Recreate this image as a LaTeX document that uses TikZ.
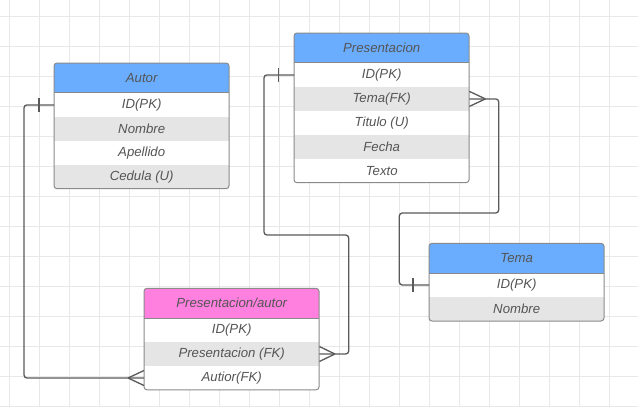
\documentclass[tikz,border=0pt]{standalone}
\usepackage{fontspec}
\setmainfont{Liberation Sans}
\definecolor{hblue}{HTML}{6AADFE}
\definecolor{hpink}{HTML}{FF80DF}
\definecolor{rowgray}{HTML}{E5E5E5}
\definecolor{gridc}{HTML}{E8E8E8}
\definecolor{txt}{HTML}{555555}
\definecolor{bordc}{HTML}{8A8A8A}
\definecolor{lineg}{HTML}{5A5A5A}
\tikzset{
  cell/.style={anchor=north west, minimum width=175pt, inner sep=0pt, text=txt,
    font=\fontsize{13.2}{15}\selectfont\itshape},
  hdr/.style={cell, minimum height=29.5pt, fill=hblue},
  hdrp/.style={cell, minimum height=29.5pt, fill=hpink},
  roww/.style={cell, minimum height=24pt, fill=white},
  rowg/.style={cell, minimum height=24pt, fill=rowgray},
  tborder/.style={draw=bordc, line width=1pt, rounded corners=3pt},
  conn/.style={draw=lineg, line width=1.3pt, rounded corners=3pt},
  crow/.style={draw=lineg, line width=1.3pt},
}
\begin{document}
\begin{tikzpicture}[x=1pt,y=-1pt]
\useasboundingbox (0,0) rectangle (638,407);
\fill[white] (0,0) rectangle (638,407);
% grid
\foreach \i in {0,...,20} \draw[gridc, line width=1pt] (9.5+30*\i,0) -- (9.5+30*\i,407);
\foreach \j in {0,...,13} \draw[gridc, line width=1pt] (0,16.8+30*\j) -- (638,16.8+30*\j);

% Autor
\begin{scope}
\clip[rounded corners=3pt] (54,63) rectangle (229,188.7);
\node[hdr] (ah) at (54,63) {Autor};
\node[roww] (a1) at (54,92.7) {ID(PK)};
\node[rowg] (a2) at (54,116.7) {Nombre};
\node[roww] (a3) at (54,140.7) {Apellido};
\node[rowg] (a4) at (54,164.7) {Cedula (U)};
\end{scope}
\draw[bordc, line width=1pt] (ah.south west) -- (ah.south east);
\draw[tborder] (54,63) rectangle (229,188.7);

% Presentacion
\begin{scope}
\clip[rounded corners=3pt] (294,33) rectangle (469,182.7);
\node[hdr] (ph) at (294,33) {Presentacion};
\node[roww] (p1) at (294,62.7) {ID(PK)};
\node[rowg] (p2) at (294,86.7) {Tema(FK)};
\node[roww] (p3) at (294,110.7) {Titulo (U)};
\node[rowg] (p4) at (294,134.7) {Fecha};
\node[roww] (p5) at (294,158.7) {Texto};
\end{scope}
\draw[bordc, line width=1pt] (ph.south west) -- (ph.south east);
\draw[tborder] (294,33) rectangle (469,182.7);

% Tema
\begin{scope}
\clip[rounded corners=3pt] (429,243.3) rectangle (604,321);
\node[hdr] (th) at (429,243.3) {Tema};
\node[roww] (t1) at (429,272.8) {ID(PK)};
\node[rowg] (t2) at (429,296.8) {Nombre};
\end{scope}
\draw[bordc, line width=1pt] (th.south west) -- (th.south east);
\draw[tborder] (429,243.3) rectangle (604,321);

% Presentacion/autor
\begin{scope}
\clip[rounded corners=3pt] (144,288.3) rectangle (319,389.8);
\node[hdrp] (pah) at (144,288.3) {Presentacion/autor};
\node[roww] (pa1) at (144,317.8) {ID(PK)};
\node[rowg] (pa2) at (144,341.8) {Presentacion (FK)};
\node[roww] (pa3) at (144,365.8) {Autior(FK)};
\end{scope}
\draw[bordc, line width=1pt] (pah.south west) -- (pah.south east);
\draw[tborder] (144,288.3) rectangle (319,389.8);

% connectors
\coordinate (c1) at (24,200);
\draw[conn] (a1.west) -| (c1) |- (pa3.west);
\draw[crow] ([xshift=-15pt,yshift=-7pt]a1.west) -- ([xshift=-15pt,yshift=7pt]a1.west);
\draw[crow] ([xshift=-16pt]pa3.west) -- ([yshift=7.5pt]pa3.west);
\draw[crow] ([xshift=-16pt]pa3.west) -- ([yshift=-7.5pt]pa3.west);

\coordinate (c2a) at (264,235);
\coordinate (c2b) at (348.7,235);
\draw[conn] (p1.west) -| (c2a) -- (c2b) |- (pa2.east);
\draw[crow] ([xshift=-15.7pt,yshift=-7pt]p1.west) -- ([xshift=-15.7pt,yshift=7pt]p1.west);
\draw[crow] ([xshift=15.5pt]pa2.east) -- ([yshift=7.5pt]pa2.east);
\draw[crow] ([xshift=15.5pt]pa2.east) -- ([yshift=-7.5pt]pa2.east);

\coordinate (c3a) at (498.7,213);
\coordinate (c3b) at (399.3,213);
\draw[conn] (p2.east) -| (c3a) -- (c3b) |- (t1.west);
\draw[crow] ([xshift=-16pt,yshift=-7pt]t1.west) -- ([xshift=-16pt,yshift=7pt]t1.west);
\draw[crow] ([xshift=16pt]p2.east) -- ([yshift=7.5pt]p2.east);
\draw[crow] ([xshift=16pt]p2.east) -- ([yshift=-7.5pt]p2.east);
\end{tikzpicture}
\end{document}
